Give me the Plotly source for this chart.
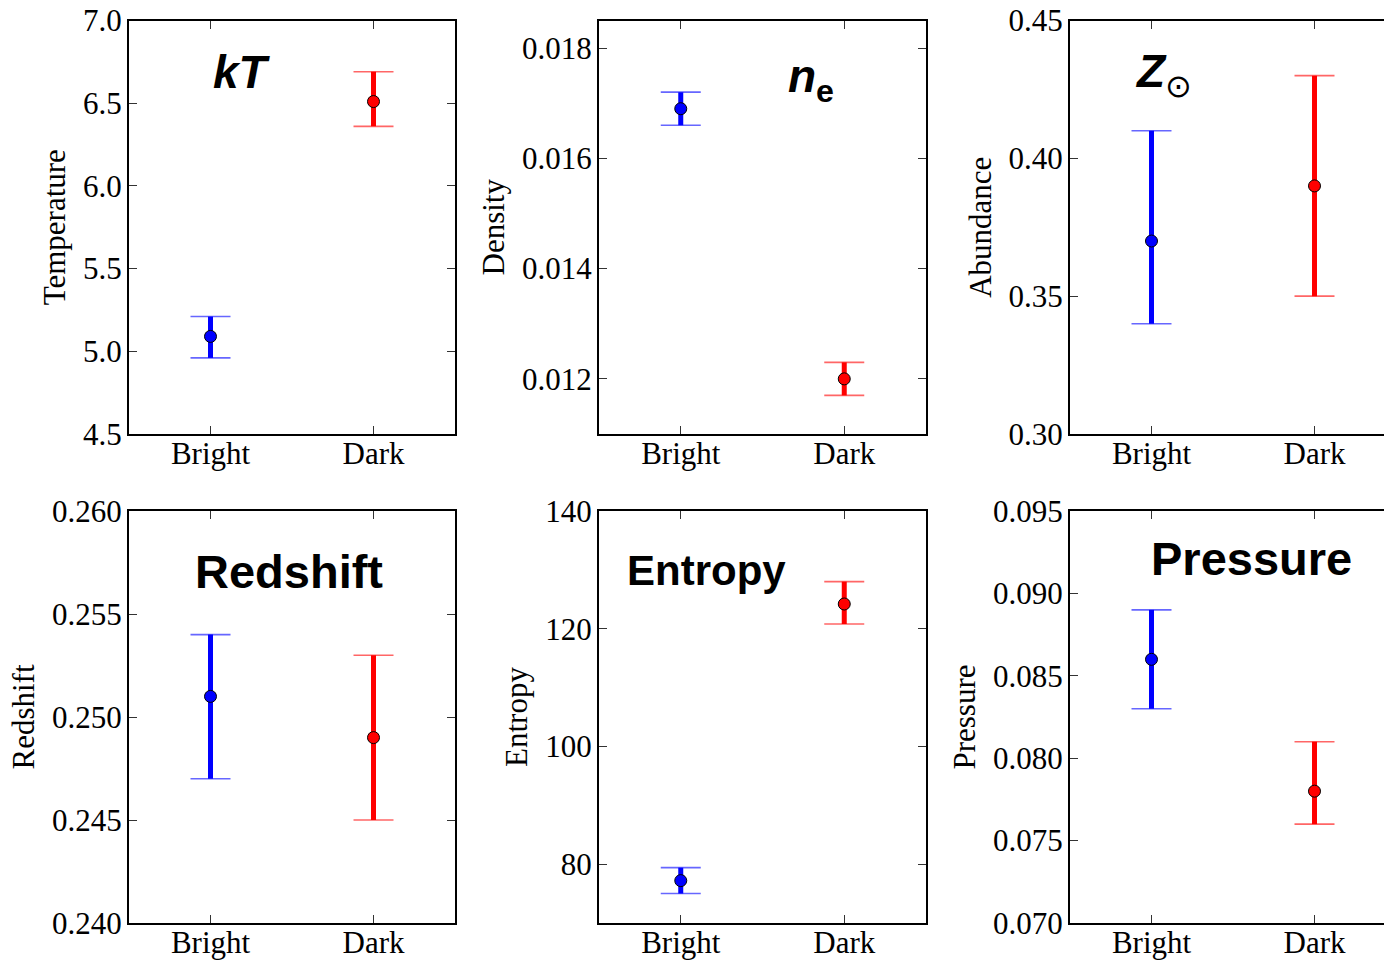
import plotly.graph_objects as go

categories = ["Bright", "Dark"]

# values, upper errors, lower errors per panel
kt_vals = [5.09, 6.51]
kt_plus = [0.12, 0.18]
kt_minus = [0.13, 0.15]

ne_vals = [0.0169, 0.0120]
ne_plus = [0.0003, 0.0003]
ne_minus = [0.0003, 0.0003]

ab_vals = [0.37, 0.39]
ab_plus = [0.04, 0.04]
ab_minus = [0.03, 0.04]

z_vals = [0.251, 0.249]
z_plus = [0.003, 0.004]
z_minus = [0.004, 0.004]

s_vals = [77.2, 124.2]
s_plus = [2.2, 3.8]
s_minus = [2.2, 3.4]

p_vals = [0.086, 0.078]
p_plus = [0.003, 0.003]
p_minus = [0.003, 0.002]

y_titles = ["Temperature", "Density", "Abundance", "Redshift", "Entropy", "Pressure"]
y_ranges = [[4.5, 7.0], [0.011, 0.0185], [0.30, 0.45], [0.240, 0.260], [70, 140], [0.070, 0.095]]
y_ticks = [
    [4.5, 5.0, 5.5, 6.0, 6.5, 7.0],
    [0.012, 0.014, 0.016, 0.018],
    [0.30, 0.35, 0.40, 0.45],
    [0.240, 0.245, 0.250, 0.255, 0.260],
    [80, 100, 120, 140],
    [0.070, 0.075, 0.080, 0.085, 0.090, 0.095],
]
y_fmt = [".1f", ".3f", ".2f", ".3f", "d", ".3f"]

panels = [
    (kt_vals, kt_plus, kt_minus),
    (ne_vals, ne_plus, ne_minus),
    (ab_vals, ab_plus, ab_minus),
    (z_vals, z_plus, z_minus),
    (s_vals, s_plus, s_minus),
    (p_vals, p_plus, p_minus),
]

colors = ["#0000ff", "#ff0000"]
cap_colors = ["rgba(0,0,255,0.6)", "rgba(255,0,0,0.6)"]

W, H = 1384, 961
col_px = [(129, 455), (599, 926), (1070, 1396)]
row_px = [(20.5, 434), (511, 923)]

serif = "Liberation Serif, Times New Roman, serif"
sans = "Liberation Sans, Arial, sans-serif"

fig = go.Figure()
layout = dict(
    width=W, height=H, margin=dict(l=0, r=0, t=0, b=0),
    paper_bgcolor="white", plot_bgcolor="white", showlegend=False,
    template="none",
)

for i in range(6):
    r, c = divmod(i, 3)
    n = i + 1
    xa = "x" if n == 1 else f"x{n}"
    ya = "y" if n == 1 else f"y{n}"
    vals, plus, minus = panels[i]
    for j in range(2):
        # thin light caps
        fig.add_trace(go.Scatter(
            x=[categories[j]], y=[vals[j]], mode="markers",
            marker=dict(size=1, color="rgba(0,0,0,0)"),
            error_y=dict(type="data", symmetric=False, array=[plus[j]], arrayminus=[minus[j]],
                         color=cap_colors[j], thickness=1.6, width=20),
            xaxis=xa, yaxis=ya, hoverinfo="skip"))
        # thick stem + marker
        fig.add_trace(go.Scatter(
            x=[categories[j]], y=[vals[j]], mode="markers",
            marker=dict(size=12, color=colors[j], line=dict(color="black", width=1)),
            error_y=dict(type="data", symmetric=False, array=[plus[j]], arrayminus=[minus[j]],
                         color=colors[j], thickness=5, width=0),
            xaxis=xa, yaxis=ya))
    x0, x1 = col_px[c]
    y0, y1 = row_px[r]
    xdom = [x0 / W, min(x1 / W, 1.0)]
    frac = (min(x1, W) - x0) / (x1 - x0)
    xrange = [-0.5, -0.5 + 2.0 * frac]
    axis_common = dict(showline=True, linecolor="black", linewidth=2, ticks="inside",
                       ticklen=8, tickwidth=1, tickcolor="#333", showgrid=False,
                       zeroline=False, automargin=False,
                       tickfont=dict(family=serif, size=31, color="black"))
    layout["xaxis" if n == 1 else f"xaxis{n}"] = dict(
        axis_common, domain=xdom, anchor=ya, type="category", range=xrange,
        tickvals=categories, ticktext=categories, mirror="ticks", ticklabelstandoff=-9)
    layout["yaxis" if n == 1 else f"yaxis{n}"] = dict(
        axis_common, domain=[1 - y1 / H, 1 - y0 / H], anchor=xa, range=y_ranges[i],
        tickvals=y_ticks[i], tickformat=y_fmt[i],
        mirror="ticks" if c < 2 else False, ticklabelstandoff=-1,
        title=dict(text=y_titles[i], font=dict(family=serif, size=31, color="black"), standoff=8))

ann_font = dict(family=sans, size=46, color="black")
anns = [
    ("<b><i>kT</i></b>", 242, 72, ann_font),
    ("<b><i>n</i></b><sub><b>e</b></sub>", 811, 80, ann_font),
    ("<b><i>Z</i></b><sub>⊙</sub>", 1163, 75, ann_font),
    ("<b>Redshift</b>", 289, 571, dict(family=sans, size=47, color="black")),
    ("<b>Entropy</b>", 706, 570, dict(family=sans, size=42, color="black")),
    ("<b>Pressure</b>", 1251, 558, dict(family=sans, size=47, color="black")),
]
layout["annotations"] = [
    dict(text=t, x=x / W, y=1 - y / H, xref="paper", yref="paper", showarrow=False,
         xanchor="center", yanchor="middle", font=f)
    for t, x, y, f in anns
]

fig.update_layout(**layout)
fig.write_html("out.html")
